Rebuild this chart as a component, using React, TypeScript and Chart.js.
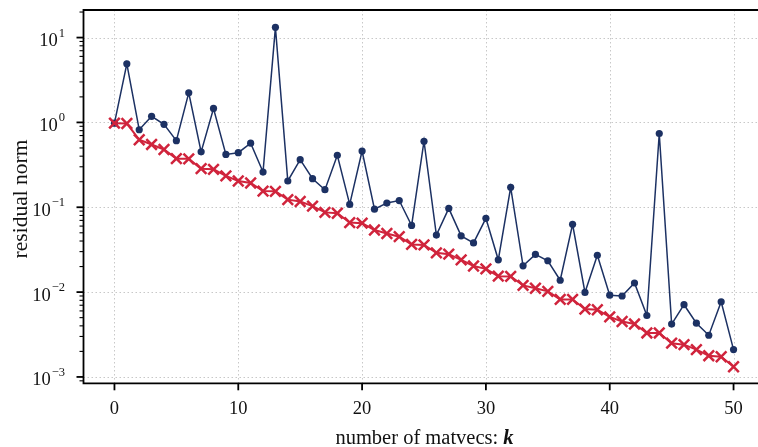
import React, { useEffect, useRef } from 'react';
import { Chart, registerables } from 'chart.js';

Chart.register(...registerables);

// iteration index k
const K = [
  0, 1, 2, 3, 4, 5, 6, 7, 8, 9, 10, 11, 12, 13, 14, 15, 16, 17, 18, 19, 20,
  21, 22, 23, 24, 25, 26, 27, 28, 29, 30, 31, 32, 33, 34, 35, 36, 37, 38, 39, 40,
  41, 42, 43, 44, 45, 46, 47, 48, 49, 50,
];

// smooth (red, x markers) residual norm
const RED = [
  0.98, 0.97, 0.625, 0.55, 0.48, 0.374, 0.372, 0.285, 0.28, 0.234, 0.204,
  0.193, 0.155, 0.154, 0.123, 0.117, 0.103, 0.087, 0.085, 0.066, 0.065,
  0.054, 0.049, 0.045, 0.0365, 0.036, 0.029, 0.028, 0.024, 0.0203, 0.0188,
  0.0154, 0.0153, 0.012, 0.0111, 0.0102, 0.0082, 0.0082, 0.0063, 0.0062, 0.0051,
  0.0045, 0.0042, 0.0033, 0.0033, 0.0025, 0.0024, 0.0021, 0.00178, 0.00173, 0.00132,
];

// erratic (blue, circle markers) residual norm
const BLUE = [
  0.98, 4.9, 0.82, 1.18, 0.95, 0.61, 2.23, 0.45, 1.46, 0.42, 0.44,
  0.57, 0.26, 13.2, 0.204, 0.364, 0.217, 0.161, 0.41, 0.108, 0.46,
  0.095, 0.112, 0.12, 0.061, 0.6, 0.047, 0.097, 0.046, 0.038, 0.074,
  0.024, 0.172, 0.0204, 0.0278, 0.0234, 0.0138, 0.063, 0.0099, 0.0272, 0.0092,
  0.009, 0.0128, 0.0053, 0.74, 0.0042, 0.0071, 0.0043, 0.0031, 0.0077, 0.0021,
];

const X_TICKS = [0, 10, 20, 30, 40, 50];
const Y_DECADES = [-3, -2, -1, 0, 1];
const X_MIN = -2.5;
const X_MAX = 52.5;
const Y_MIN_EXP = -3.075;
const Y_MAX_EXP = 1.325;
const X_TITLE = 'number of matvecs: ';
const X_TITLE_VAR = 'k';
const Y_TITLE = 'residual norm';

const TICK_FONT = '"Liberation Serif", serif';
const TITLE_FONT = '"Liberation Serif", serif';
const BLUE_COLOR = '#1c3163';
const RED_COLOR = '#d0243c';

const axesPlugin = {
  id: 'customAxes',
  beforeDatasetsDraw(chart: any) {
    const { ctx, chartArea: a, scales } = chart;
    const x = scales.x;
    const y = scales.y;
    ctx.save();
    ctx.strokeStyle = '#c8c8c8';
    ctx.lineWidth = 1;
    ctx.setLineDash([1.5, 2.5]);
    for (const t of X_TICKS) {
      const px = Math.round(x.getPixelForValue(t)) + 0.5;
      ctx.beginPath();
      ctx.moveTo(px, a.top);
      ctx.lineTo(px, a.bottom);
      ctx.stroke();
    }
    for (const d of Y_DECADES) {
      const py = Math.round(y.getPixelForValue(Math.pow(10, d))) + 0.5;
      ctx.beginPath();
      ctx.moveTo(a.left, py);
      ctx.lineTo(a.right, py);
      ctx.stroke();
    }
    ctx.restore();
  },
  afterDatasetsDraw(chart: any) {
    const { ctx, chartArea: a, scales } = chart;
    const x = scales.x;
    const y = scales.y;
    ctx.save();
    ctx.setLineDash([]);
    // frame
    ctx.strokeStyle = '#000';
    ctx.lineWidth = 1.8;
    ctx.beginPath();
    ctx.rect(a.left, a.top, a.right - a.left, a.bottom - a.top);
    ctx.stroke();

    // x ticks + labels
    ctx.fillStyle = '#111';
    ctx.font = `18.5px ${TICK_FONT}`;
    ctx.textAlign = 'center';
    ctx.textBaseline = 'alphabetic';
    for (const t of X_TICKS) {
      const px = x.getPixelForValue(t);
      ctx.lineWidth = 1.8;
      ctx.beginPath();
      ctx.moveTo(px, a.bottom);
      ctx.lineTo(px, a.bottom + 7);
      ctx.stroke();
      ctx.fillText(String(t), px, a.bottom + 31);
    }

    // y minor ticks
    ctx.lineWidth = 1.1;
    for (let d = -4; d <= 1; d++) {
      for (let m = 2; m <= 9; m++) {
        const v = m * Math.pow(10, d);
        if (v < y.min || v > y.max) continue;
        const py = y.getPixelForValue(v);
        ctx.beginPath();
        ctx.moveTo(a.left, py);
        ctx.lineTo(a.left - 4, py);
        ctx.stroke();
      }
    }
    // y major ticks + labels with superscripts
    for (const d of Y_DECADES) {
      const py = y.getPixelForValue(Math.pow(10, d));
      ctx.lineWidth = 1.8;
      ctx.beginPath();
      ctx.moveTo(a.left, py);
      ctx.lineTo(a.left - 7, py);
      ctx.stroke();
      const expText = d < 0 ? '\u2212' + String(-d) : String(d);
      ctx.font = `12.5px ${TICK_FONT}`;
      const we = ctx.measureText(expText).width;
      ctx.font = `18.5px ${TICK_FONT}`;
      const wb = ctx.measureText('10').width;
      const right = a.left - 18.5;
      ctx.textAlign = 'left';
      ctx.fillText('10', right - we - wb - 1, py + 8.5);
      ctx.font = `12.5px ${TICK_FONT}`;
      ctx.fillText(expText, right - we, py - 1);
    }

    // x title
    const tf = 20.5;
    ctx.font = `${tf}px ${TITLE_FONT}`;
    const w1 = ctx.measureText(X_TITLE).width;
    ctx.font = `italic bold ${tf}px ${TITLE_FONT}`;
    const w2 = ctx.measureText(X_TITLE_VAR).width;
    const cx = 424.5;
    const startX = cx - (w1 + w2) / 2;
    ctx.textAlign = 'left';
    ctx.font = `${tf}px ${TITLE_FONT}`;
    ctx.fillText(X_TITLE, startX, 444);
    ctx.font = `italic bold ${tf}px ${TITLE_FONT}`;
    ctx.fillText(X_TITLE_VAR, startX + w1, 444);

    // y title
    ctx.save();
    ctx.translate(27, 199);
    ctx.rotate(-Math.PI / 2);
    ctx.font = `21.5px ${TITLE_FONT}`;
    ctx.textAlign = 'center';
    ctx.fillText(Y_TITLE, 0, 0);
    ctx.restore();

    ctx.restore();
  },
};

export default function App() {
  const ref = useRef<HTMLCanvasElement | null>(null);
  useEffect(() => {
    if (!ref.current) return;
    const chart = new Chart(ref.current, {
      type: 'line',
      data: {
        datasets: [
          {
            label: 'smooth',
            data: K.map((k, i) => ({ x: k, y: RED[i] })),
            borderColor: RED_COLOR,
            backgroundColor: RED_COLOR,
            borderWidth: 2,
            pointStyle: 'crossRot',
            pointRadius: 7.5,
            pointBorderWidth: 2.5,
            pointBorderColor: RED_COLOR,
            tension: 0,
          },
          {
            label: 'erratic',
            data: K.map((k, i) => ({ x: k, y: BLUE[i] })),
            borderColor: BLUE_COLOR,
            backgroundColor: BLUE_COLOR,
            borderWidth: 1.5,
            pointStyle: 'circle',
            pointRadius: 3.6,
            pointBorderWidth: 0,
            tension: 0,
          },
        ],
      },
      options: {
        responsive: false,
        animation: false,
        events: [],
        layout: { padding: { left: 83.5, top: 9.3, right: 15.5, bottom: 63.7 } },
        plugins: { legend: { display: false }, tooltip: { enabled: false } },
        scales: {
          x: { type: 'linear', display: false, min: X_MIN, max: X_MAX, bounds: 'data' },
          y: {
            type: 'logarithmic',
            display: false,
            min: Math.pow(10, Y_MIN_EXP),
            max: Math.pow(10, Y_MAX_EXP),
            bounds: 'data',
          },
        },
      },
      plugins: [axesPlugin],
    });
    return () => chart.destroy();
  }, []);
  return (
    <div
      style={{
        position: 'fixed',
        left: 0,
        top: 0,
        width: 758,
        height: 447,
        overflow: 'hidden',
        background: '#fff',
      }}
    >
      <canvas ref={ref} width={780} height={447} style={{ display: 'block', width: 780, height: 447 }} />
    </div>
  );
}
